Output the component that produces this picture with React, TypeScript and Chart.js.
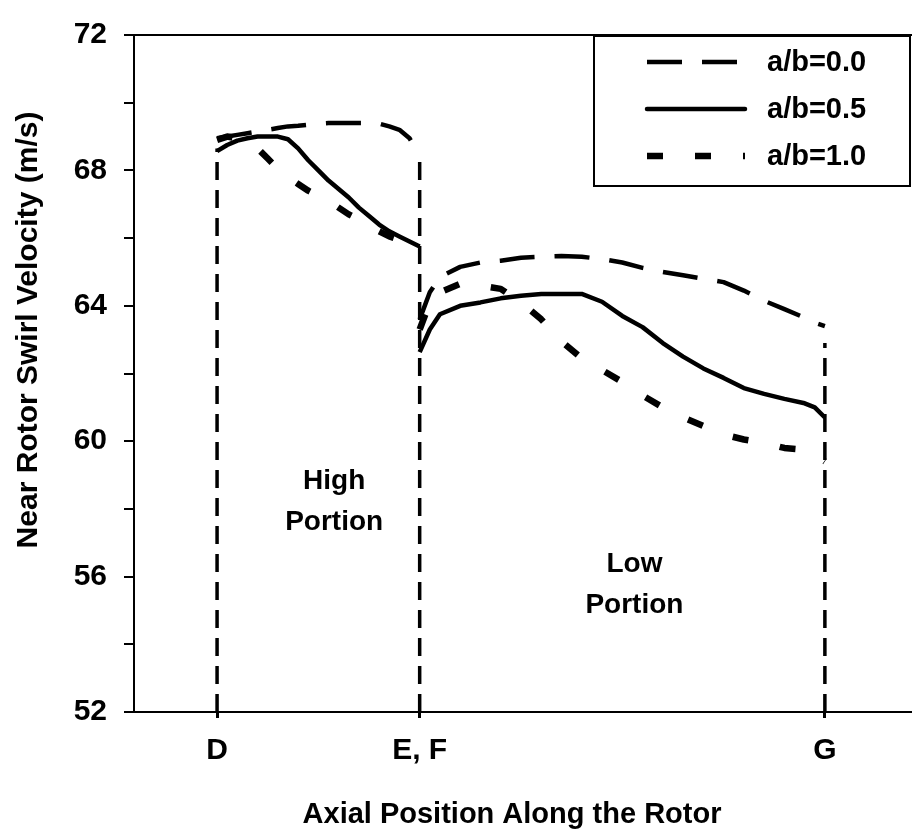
import React, { useEffect, useRef } from 'react';
import { Chart, registerables } from 'chart.js';

Chart.register(...registerables);

// ---- data (x in axial units: D = 0, E/F = 100, G = 300) ----
const highX = [0, 5, 10, 15, 20, 25, 30, 35, 40, 45, 50, 55, 60, 65, 70, 75, 80, 85, 90, 95, 100];
const lowX = [100, 105, 110, 120, 130, 140, 150, 160, 170, 180, 190, 200, 210, 220, 230, 240, 250, 260, 270, 280, 290, 295, 300];

const high00 = [68.95, 69.0, 69.05, 69.1, 69.15, 69.2, 69.25, 69.3, 69.32, 69.35, 69.38, 69.4, 69.4, 69.4, 69.4, 69.4, 69.38, 69.3, 69.2, 68.95, 68.45];
const low00 = [63.6, 64.4, 64.85, 65.15, 65.28, 65.33, 65.42, 65.45, 65.47, 65.45, 65.38, 65.28, 65.12, 65.0, 64.9, 64.8, 64.7, 64.45, 64.15, 63.9, 63.65, 63.5, 63.4];

const high05 = [68.57, 68.75, 68.88, 68.95, 69.0, 69.0, 69.0, 68.92, 68.65, 68.3, 68.0, 67.7, 67.45, 67.2, 66.9, 66.65, 66.4, 66.2, 66.05, 65.9, 65.75];
const low05 = [62.63, 63.3, 63.75, 64.0, 64.1, 64.22, 64.3, 64.35, 64.35, 64.35, 64.12, 63.7, 63.37, 62.9, 62.5, 62.15, 61.87, 61.57, 61.4, 61.25, 61.12, 61.0, 60.7];

const high10 = [68.9, 69.0, 68.95, 68.85, 68.65, 68.35, 68.05, 67.8, 67.6, 67.4, 67.25, 67.1, 66.9, 66.7, 66.55, 66.35, 66.2, 66.05, 65.95, 65.85, 65.75];
const low10 = [63.3, 64.1, 64.4, 64.65, 64.6, 64.5, 64.1, 63.6, 62.95, 62.45, 62.1, 61.75, 61.35, 61.0, 60.7, 60.45, 60.2, 60.05, 59.95, 59.8, 59.75, 59.6, 59.4];

const seriesLabels = ['a/b=0.0', 'a/b=0.5', 'a/b=1.0'];

const boundaryX = [0, 100, 300];
const boundaryTop = [68.65, 68.4, 62.9];

const xTickValues = [0, 100, 300];
const xTickLabels = ['D', 'E, F', 'G'];
const xMin = -41;
const xMax = 343;

const yMin = 52;
const yMax = 72;
const yStep = 2;
const yLabelStep = 4;

const xTitle = 'Axial Position Along the Rotor';
const yTitle = 'Near Rotor Swirl Velocity (m/s)';

const noteLines = [['High', 'Portion'], ['Low', 'Portion']];
const noteX = [57.8, 206];
const noteY = [58.6, 56.13];

const FONT = '"Liberation Sans", Arial, Helvetica, sans-serif';

export default function App() {
  const ref = useRef<HTMLCanvasElement>(null);

  useEffect(() => {
    const canvas = ref.current;
    if (!canvas) return;

    const pts = (xs: number[], ys: number[]) => xs.map((x, i) => ({ x, y: ys[i] }));
    const joined = (h: number[], l: number[]) => [...pts(highX, h), { x: 100, y: null as any }, ...pts(lowX, l)];

    const seriesStyle = [
      { dash: [35, 20], width: 4.5 },
      { dash: [] as number[], width: 4.5 },
      { dash: [16, 32], width: 6.5 },
    ];
    const seriesData = [joined(high00, low00), joined(high05, low05), joined(high10, low10)];

    const datasets: any[] = [];
    boundaryX.forEach((bx, i) => {
      datasets.push({
        label: '_boundary' + i,
        data: [{ x: bx, y: yMin }, { x: bx, y: boundaryTop[i] }],
        borderColor: '#000',
        borderWidth: 3.5,
        borderDash: [18, 10],
        pointRadius: 0,
        fill: false,
      });
    });
    seriesData.forEach((d, i) => {
      datasets.push({
        label: seriesLabels[i],
        data: d,
        borderColor: '#000',
        borderWidth: seriesStyle[i].width,
        borderDash: seriesStyle[i].dash,
        borderJoinStyle: 'round',
        pointRadius: 0,
        tension: 0,
        fill: false,
        spanGaps: false,
      });
    });

    const decor = {
      id: 'decor',
      afterDraw(chart: any) {
        const { ctx, chartArea: ca, scales } = chart;
        ctx.save();
        // top frame line
        ctx.strokeStyle = '#000';
        ctx.lineWidth = 2;
        ctx.setLineDash([]);
        ctx.beginPath();
        ctx.moveTo(ca.left, ca.top);
        ctx.lineTo(ca.right, ca.top);
        ctx.stroke();

        ctx.fillStyle = '#000';
        // axis titles
        ctx.textAlign = 'center';
        ctx.textBaseline = 'middle';
        ctx.font = `bold 30px ${FONT}`;
        ctx.save();
        ctx.translate(29, 330);
        ctx.rotate(-Math.PI / 2);
        ctx.fillText(yTitle, 0, 0);
        ctx.restore();
        ctx.font = `bold 29px ${FONT}`;
        ctx.fillText(xTitle, 512, 815);

        // region notes
        ctx.font = `bold 28px ${FONT}`;
        ctx.textBaseline = 'alphabetic';
        noteLines.forEach((lines, i) => {
          const px = scales.x.getPixelForValue(noteX[i]);
          const py = scales.y.getPixelForValue(noteY[i]);
          lines.forEach((t, j) => ctx.fillText(t, px, py + j * 41));
        });

        // legend
        const bx = 594, by = 36, bw = 316, bh = 150;
        ctx.fillStyle = '#fff';
        ctx.fillRect(bx, by, bw, bh);
        ctx.lineWidth = 2;
        ctx.strokeStyle = '#000';
        ctx.strokeRect(bx, by, bw, bh);
        const rows = [62, 109, 156];
        ctx.font = `bold 29px ${FONT}`;
        ctx.textAlign = 'left';
        ctx.textBaseline = 'middle';
        ctx.fillStyle = '#000';
        for (let i = 0; i < 3; i++) {
          const ds = chart.data.datasets[boundaryX.length + i];
          ctx.setLineDash(ds.borderDash || []);
          ctx.lineWidth = ds.borderWidth;
          ctx.lineCap = (ds.borderDash || []).length ? 'butt' : 'round';
          ctx.beginPath();
          ctx.moveTo(647, rows[i]);
          ctx.lineTo(745, rows[i]);
          ctx.stroke();
          ctx.setLineDash([]);
          ctx.fillText(ds.label, 767, rows[i] + 1);
        }
        ctx.restore();
      },
    };

    const chart = new Chart(canvas, {
      type: 'line',
      data: { datasets },
      options: {
        animation: false,
        responsive: false,
        devicePixelRatio: 1,
        layout: { padding: { top: 25, right: 0, left: 0, bottom: 0 } },
        plugins: {
          legend: { display: false },
          tooltip: { enabled: false },
        },
        scales: {
          x: {
            type: 'linear',
            min: xMin,
            max: xMax,
            afterBuildTicks: (scale: any) => {
              scale.ticks = xTickValues.map((v) => ({ value: v }));
            },
            afterFit: (scale: any) => {
              scale.height = 122;
            },
            ticks: {
              autoSkip: false,
              maxRotation: 0,
              padding: 15,
              color: '#000',
              font: { family: FONT, size: 30, weight: 'bold' },
              callback: (v: any) => {
                const i = xTickValues.indexOf(Number(v));
                return i >= 0 ? xTickLabels[i] : '';
              },
            },
            grid: {
              drawOnChartArea: false,
              drawTicks: true,
              tickLength: 6,
              lineWidth: 3,
              color: '#000',
            },
            border: { display: true, color: '#000', width: 2 },
          },
          y: {
            type: 'linear',
            min: yMin,
            max: yMax,
            afterFit: (scale: any) => {
              scale.width = 134;
            },
            ticks: {
              stepSize: yStep,
              padding: 17,
              color: '#000',
              font: { family: FONT, size: 30, weight: 'bold' },
              callback: (v: any) => ((Number(v) - yMin) % yLabelStep === 0 ? String(v) : ''),
            },
            grid: {
              drawOnChartArea: false,
              drawTicks: true,
              tickLength: 10,
              lineWidth: 2,
              color: '#000',
            },
            border: { display: true, color: '#000', width: 2 },
          },
        },
      } as any,
      plugins: [decor],
    });

    return () => chart.destroy();
  }, []);

  return (
    <div style={{ position: 'fixed', left: 0, top: 0, width: 912, height: 834, background: '#fff' }}>
      <canvas ref={ref} width={912} height={834} style={{ display: 'block', width: 912, height: 834 }} />
    </div>
  );
}
